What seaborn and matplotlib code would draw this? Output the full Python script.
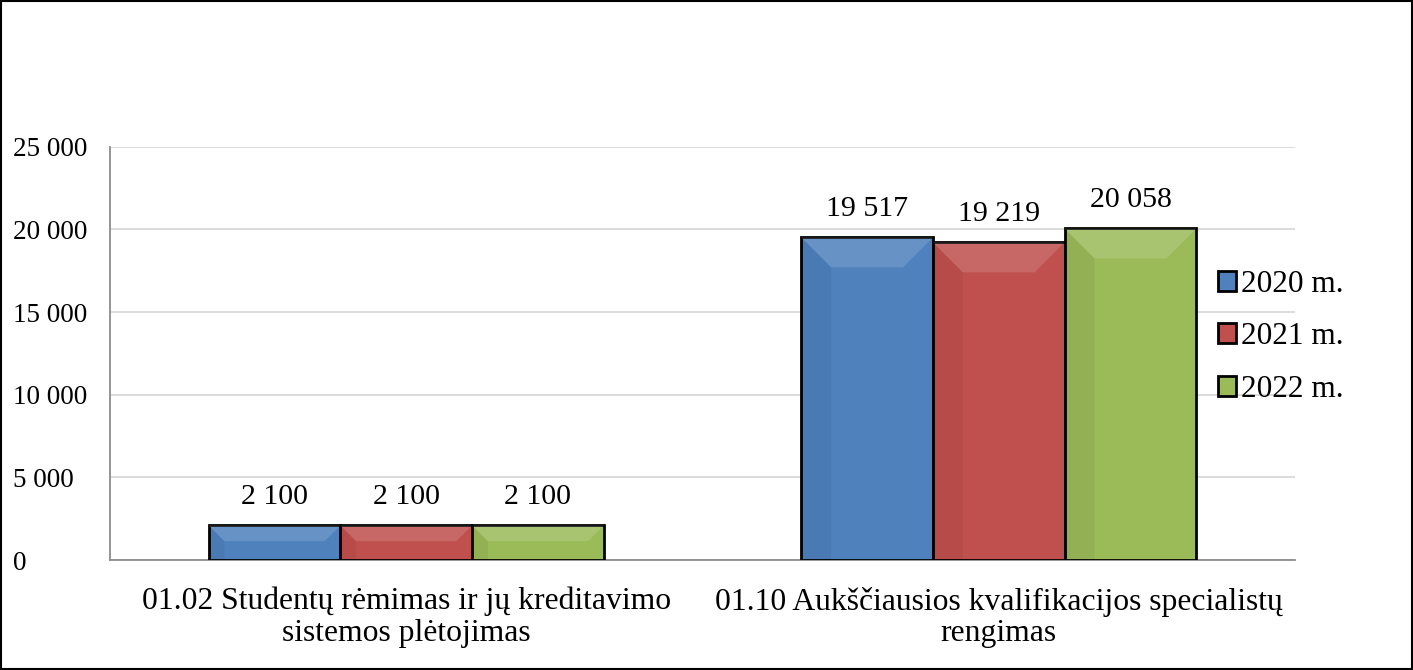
import matplotlib
matplotlib.use("Agg")
import matplotlib.pyplot as plt
import seaborn as sns
import pandas as pd
from matplotlib.patches import Rectangle, Polygon

# --- data ---
categories = ["01.02 Studentų rėmimas ir jų kreditavimo\nsistemos plėtojimas",
              "01.10 Aukščiausios kvalifikacijos specialistų\nrengimas"]
years = ["2020 m.", "2021 m.", "2022 m."]
values_2020 = [2100, 19517]
values_2021 = [2100, 19219]
values_2022 = [2100, 20058]
colors = ["#4F81BD", "#C0504D", "#9BBB59"]

rows = []
for year, vals in zip(years, [values_2020, values_2021, values_2022]):
    for cat, v in zip(categories, vals):
        rows.append({"category": cat, "year": year, "value": v})
df = pd.DataFrame(rows)

sns.set_style("white")
plt.rcParams["font.family"] = ["Liberation Serif", "DejaVu Serif"]
plt.rcParams["text.color"] = "black"

fig = plt.figure(figsize=(14.13, 6.70), dpi=100)
ax = fig.add_axes([0.0778, 0.164, 0.8387, 0.617])

sns.barplot(data=df, x="category", y="value", hue="year", palette=colors,
            width=0.667, edgecolor="black", linewidth=2, saturation=1,
            ax=ax, zorder=3)

def fmt(v):
    return f"{v:,.0f}".replace(",", " ")

for cont in ax.containers:
    ax.bar_label(cont, labels=[fmt(b.get_height()) for b in cont],
                 padding=11, fontsize=21.5, color="black")

ax.set_ylim(0, 25000)
ax.set_yticks(range(0, 25001, 5000))
ax.set_yticklabels([fmt(t) for t in range(0, 25001, 5000)], fontsize=19.5)
ax.tick_params(axis="y", length=0, pad=70, labelcolor="black")
for lab in ax.get_yticklabels():
    lab.set_ha("left")
ax.tick_params(axis="x", length=0, pad=19, labelsize=22.8, labelcolor="black")
for lab in ax.get_xticklabels():
    lab.set_linespacing(1.12)
ax.set_xlabel("")
ax.set_ylabel("")
ax.grid(axis="y", color="#D9D9D9", linewidth=1.3, zorder=0)
for s in ["top", "right"]:
    ax.spines[s].set_visible(False)
for s in ["left", "bottom"]:
    ax.spines[s].set_color("#8C8C8C")
    ax.spines[s].set_linewidth(1.3)

# soft bevel on the bars, roughly like the office-style 3D fill
xpx = ax.transData.transform([(0, 0), (1, 1)])
px_x = (xpx[1][0] - xpx[0][0])
px_y = (xpx[1][1] - xpx[0][1])
for cont in ax.containers:
    for b in cont:
        x0, w, h = b.get_x(), b.get_width(), b.get_height()
        d = min(30, h * px_y / 2.2)
        dx, dy = d / px_x, d / px_y
        top = Polygon([(x0, h), (x0 + w, h), (x0 + w - dx, h - dy), (x0 + dx, h - dy)],
                      closed=True, facecolor="white", alpha=0.14, lw=0, zorder=3.5)
        left = Polygon([(x0, h), (x0 + dx, h - dy), (x0 + dx, 0), (x0, 0)],
                       closed=True, facecolor="black", alpha=0.05, lw=0, zorder=3.5)
        ax.add_patch(top)
        ax.add_patch(left)

leg = ax.legend(loc="center left", bbox_to_anchor=(0.911, 0.54), frameon=False,
                fontsize=22.5, handlelength=0.6, handleheight=0.6,
                handletextpad=0.15, labelspacing=0.75)
for hnd in leg.legend_handles:
    hnd.set_linewidth(2)

fig.patches.append(Rectangle((0.0005, 0.001), 0.999, 0.998, transform=fig.transFigure,
                             fill=False, edgecolor="black", linewidth=1.5))

fig.savefig("out.png", dpi=100)
